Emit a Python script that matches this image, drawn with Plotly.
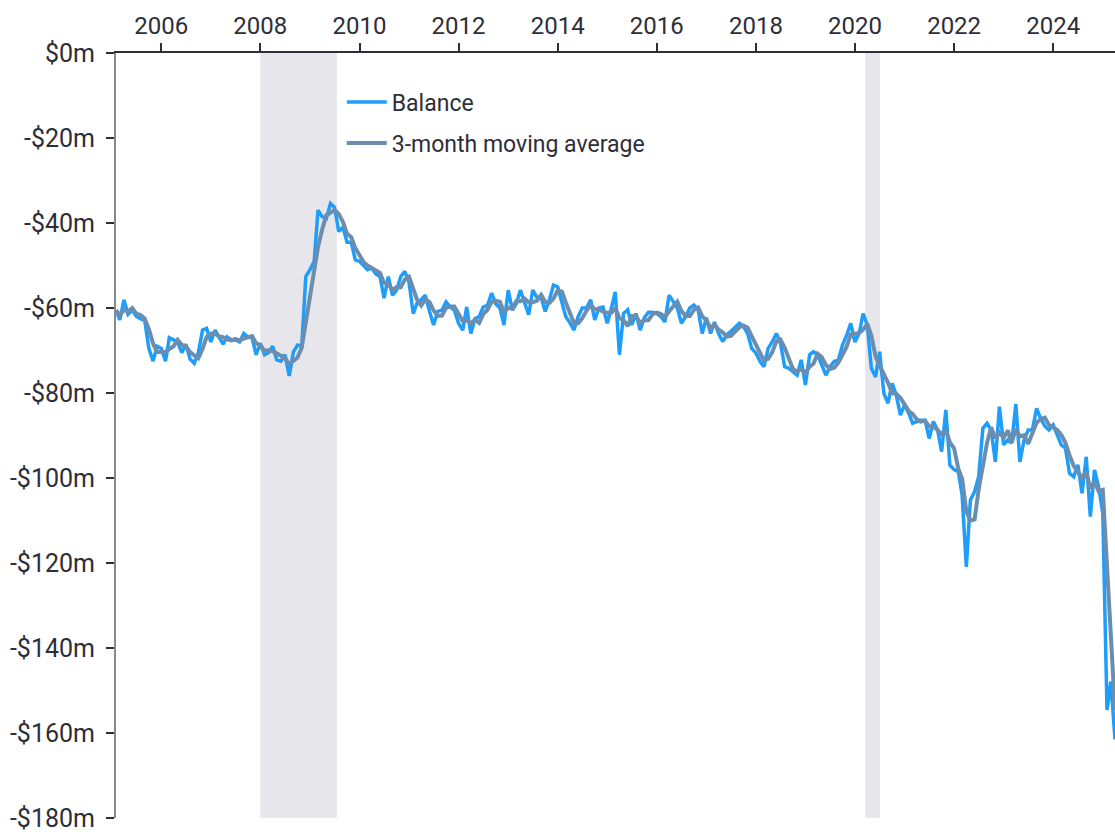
import pandas as pd
import plotly.graph_objects as go

# ---- data (monthly, starting Feb 2005) ----
start_month = "2005-02-01"
balance = [
    # 2005 (Feb-Dec)
    -60.5, -62.8, -58.1, -61.5, -60.5, -62, -62.5, -63, -69.5, -72.5, -69,
    # 2006
    -69.5, -72.5, -67, -67.5, -68, -70.5, -68.5, -72, -73, -70.5, -65.2, -64.8,
    # 2007
    -68, -65.2, -66.8, -68.5, -66.8, -67.5, -67.5, -68, -66, -66.8, -67, -71,
    # 2008
    -68.3, -71, -70.5, -69, -72.2, -72.5, -71, -76, -70.3, -68.7, -69, -52.6,
    # 2009
    -51, -49, -37, -38.5, -39, -35.4, -36.3, -42, -41, -44.5, -44.5, -48.7,
    # 2010
    -49, -50, -51, -50.6, -52, -52.6, -57.7, -52.6, -57, -55.8, -52.6, -51.4,
    # 2011
    -54, -61.3, -58.9, -58, -57, -60.8, -64, -60.8, -60.5, -58.6, -59.8, -60.5,
    # 2012
    -63.6, -65.2, -59.8, -66, -62.5, -62, -59.8, -59.4, -56.5, -59, -60, -64,
    # 2013
    -55.8, -60.5, -59, -55.8, -58.5, -61.6, -55.8, -57.5, -57.5, -60.8, -58, -54.6,
    # 2014
    -55, -58.9, -62, -63.5, -65.2, -62, -60, -60, -58.1, -62.8, -60, -59.8,
    # 2015
    -63.6, -60, -56.2, -71, -61.3, -60.4, -64, -61.3, -65.2, -62.3, -61, -61,
    # 2016
    -61.3, -62, -63.3, -57, -58.6, -60, -63.6, -62, -60, -59.3, -60.4, -66,
    # 2017
    -62.3, -66, -63.3, -66, -67.9, -66.3, -65.5, -64.5, -63.6, -64.3, -66, -69.5,
    # 2018
    -70.6, -72.6, -73.8, -69.5, -68, -66, -68.3, -73.8, -74.2, -75, -75.8, -72.2,
    # 2019
    -78.1, -71, -70.3, -71, -73.4, -75.8, -73.8, -72.6, -72.2, -68.7, -66.4, -63.6,
    # 2020
    -68, -66, -61.3, -64, -74.2, -76.2, -70.3, -80.1, -82.4, -77.7, -80.5, -85.2,
    # 2021
    -82.8, -84.8, -87.1, -86.7, -86.4, -86.4, -90.7, -86.7, -88.7, -93.8, -84, -97,
    # 2022
    -98, -98.5, -104, -120.9, -105.2, -103.2, -99.7, -88.3, -87.1, -88.7, -96.2, -83.2,
    # 2023
    -92.2, -91, -91.8, -82.6, -96.2, -91, -88.7, -88.7, -83.6, -86, -87.8, -88.7,
    # 2024
    -87.5, -89.9, -92.2, -93, -98.9, -99.7, -96.9, -103.6, -95, -109.1, -98.1, -102,
    # 2025 (Jan-Apr)
    -108.3, -154.6, -147.9, -161.5,
]
series_names = ["Balance", "3-month moving average"]
recession_starts = ["2008-01-01", "2020-03-17"]
recession_ends = ["2009-07-18", "2020-07-04"]
y_tick_values = [0, -20, -40, -60, -80, -100, -120, -140, -160, -180]
y_tick_labels = ["$0m", "-$20m", "-$40m", "-$60m", "-$80m", "-$100m",
                 "-$120m", "-$140m", "-$160m", "-$180m"]
x_tick_years = [2006, 2008, 2010, 2012, 2014, 2016, 2018, 2020, 2022, 2024]

# ---- derived ----
dates = pd.date_range(start_month, periods=len(balance), freq="MS")
bal = pd.Series(balance, index=dates)
moving_avg = bal.rolling(3, min_periods=1).mean()

TEXT = "#2E2E38"
FONT = "Roboto, 'Liberation Sans', sans-serif"

fig = go.Figure()
fig.add_trace(go.Scatter(
    x=dates, y=bal.values, mode="lines", name=series_names[0],
    line=dict(color="#1E9EFA", width=3.5), legendgroup="a",
))
fig.add_trace(go.Scatter(
    x=dates, y=moving_avg.values, mode="lines", name=series_names[1],
    line=dict(color="#6B8DB0", width=4), legendgroup="b",
))

for s, e in zip(recession_starts, recession_ends):
    fig.add_shape(type="rect", xref="x", yref="paper", x0=s, x1=e, y0=0, y1=1,
                  fillcolor="#E6E6EB", line=dict(width=0), layer="below")

fig.update_layout(
    width=1115, height=837,
    margin=dict(l=116, r=0, t=53, b=19, pad=0),
    paper_bgcolor="white", plot_bgcolor="white",
    font=dict(family=FONT, color=TEXT, size=24),
    showlegend=True,
    legend=dict(
        x=0.226, y=0.964, xanchor="left", yanchor="top",
        bgcolor="rgba(0,0,0,0)", borderwidth=0,
        font=dict(family=FONT, size=23, color=TEXT),
        tracegroupgap=8, itemwidth=40,
    ),
)
fig.update_xaxes(
    type="date", side="top", automargin=False,
    range=["2005-02-01", "2025-04-01"],
    tickvals=[pd.Timestamp(f"{y}-01-01") for y in x_tick_years],
    ticktext=[str(y) for y in x_tick_years],
    ticks="outside", ticklen=8, tickwidth=1.5, tickcolor=TEXT,
    showline=True, linecolor=TEXT, linewidth=1.5,
    showgrid=False, zeroline=False,
    tickfont=dict(family=FONT, size=24, color=TEXT),
)
fig.update_yaxes(
    range=[-180, 0], automargin=False,
    tickvals=y_tick_values, ticktext=y_tick_labels,
    ticks="outside", ticklen=8, tickwidth=1.5, tickcolor=TEXT,
    showline=True, linecolor="#8A8A8A", linewidth=2,
    showgrid=False, zeroline=False,
    tickfont=dict(family=FONT, size=25, color=TEXT),
    ticklabelstandoff=6,
)

fig.write_html(
    "out.html",
    config={"displayModeBar": False},
    post_script="document.body.style.margin='0';document.body.style.overflow='hidden';",
)
